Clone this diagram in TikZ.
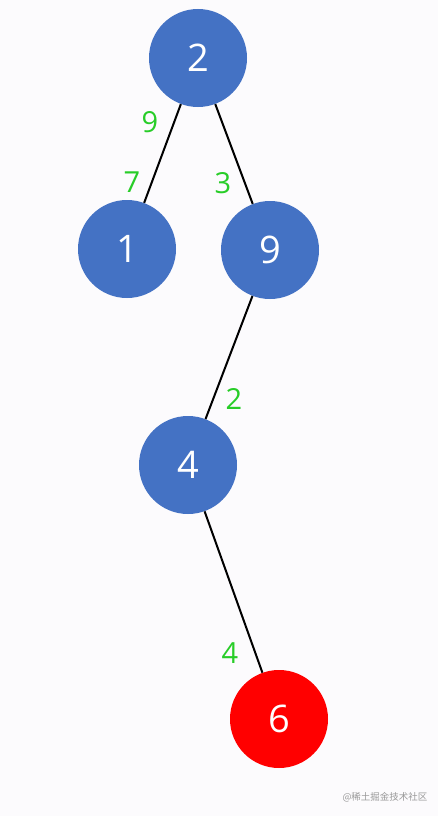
\documentclass[tikz,border=0pt]{standalone}
\usepackage{fontspec}
\setmainfont{Open Sans}
\newfontfamily\cjk{Noto Sans CJK SC}
\usepackage{tikz}
\usetikzlibrary{
	positioning,									% 节点的高级摆放
}
\definecolor{nodeblue}{RGB}{68,114,196}
\definecolor{nodered}{RGB}{255,0,0}
\definecolor{wgreen}{RGB}{40,205,40}
\definecolor{bgcol}{RGB}{252,251,253}
\tikzset{
	treenode/.style={circle, minimum size=98pt, inner sep=0pt, fill=nodeblue, text=white, font=\fontsize{38}{38}\selectfont},
	rednode/.style={treenode, fill=nodered},
	weight/.style={text=wgreen, inner sep=0pt, font=\fontsize{29}{29}\selectfont},
	edge/.style={line width=2pt, black},
}

\begin{document}
\begin{tikzpicture}[x=1pt, y=-1pt]
		% 背景与边界
		\fill[bgcol] (0,0) rectangle (438,816);
		\useasboundingbox (0,0) rectangle (438,816);
		% 节点
		\node[treenode] (n2) at (198,58) {2};
		\node[treenode] (n1) at (127,249) {1};
		\node[treenode] (n9) at (270,250) {9};
		\node[treenode] (n4) at (188,465) {4};
		\node[rednode] (n6) at (279,719) {6};
		% 连线
		\draw[edge] (n2) -- (n1);
		\draw[edge] (n2) -- (n9);
		\draw[edge] (n9) -- (n4);
		\draw[edge] (n4) -- (n6);
		% 权值
		\node[weight] (w9) at (150,122) {9};
		\node[weight] (w7) at (132,182) {7};
		\node[weight] (w3) at (223,183) {3};
		\node[weight] (w2) at (234,399) {2};
		\node[weight] (w4) at (230,653) {4};
		% 水印
		\node[text=black!40, font=\cjk\fontsize{9.5}{10}\selectfont, inner sep=0pt] (mark) at (385,797) {@稀土掘金技术社区};
	\end{tikzpicture}
\end{document}
